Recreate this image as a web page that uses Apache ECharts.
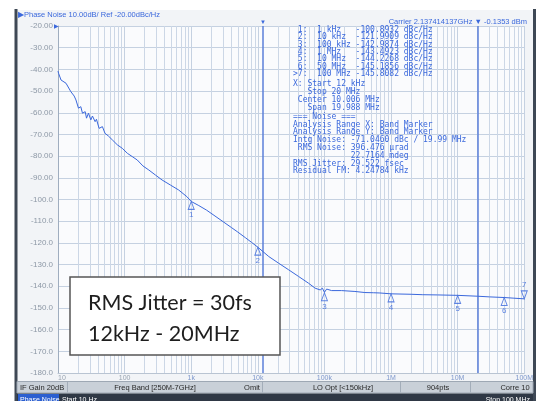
<!DOCTYPE html>
<html><head><meta charset="utf-8">
<script src="https://cdn.jsdelivr.net/npm/echarts@6/dist/echarts.min.js"></script>
<style>html,body{margin:0;padding:0;background:#fff}#c{width:536px;height:401px}</style>
</head><body><div id="c"></div>
<script>
// ---- data ----
const freqHz = [10, 10.2, 11.1, 11.7, 13.2, 15.6, 17.5, 18.6, 20.3, 22.0, 23.3, 25.6, 26.8, 28.7, 31.1, 32.9, 36.1, 37.8, 41.4, 46.4, 50.8, 57, 65.4, 77.8, 92.3, 110, 130, 155, 188, 231, 290, 365, 486, 647, 861,
  1000, 1300, 1700, 2200, 3000, 4000, 5000, 6500, 8000, 10000, 14600, 20600, 29000, 41000, 57700, 72600, 86300, 93300, 100000, 108000, 128000, 181000, 287000, 405000, 550000, 680000, 700000, 720000,
  1e6, 2e6, 3e6, 5e6, 1e7, 2e7, 3e7, 5e7, 7e7, 1e8];
const phaseNoise = [-40.8, -41.8, -44.9, -44.1, -46.4, -50.3, -52.3, -54.1, -57.9, -57.2, -60.2, -59.5, -62.5, -60.2, -63.3, -61.5, -64.1, -63.0, -67.2, -66.4, -69.5, -70.7, -72.5, -74.8, -76.4, -78.7, -80.2, -81.8, -84.5, -86.4, -88.7, -91.0, -93.3, -95.6, -98.7,
  -100.9, -102.8, -104.9, -107.3, -110.2, -112.9, -115.0, -117.6, -119.7, -122.0, -126.3, -129.4, -132.4, -135.5, -138.6, -140.9, -141.7, -140.9, -142.8, -141.3, -142.0, -142.0, -142.4, -142.9, -143.0, -143.1, -144.0, -143.2,
  -143.5, -143.7, -143.9, -144.0, -144.2, -144.6, -144.9, -145.2, -145.5, -145.8];
const markerIds = ['1', '2', '3', '4', '5', '6', '>7'];
const markerFreq = [1e3, 1e4, 1e5, 1e6, 1e7, 5e7, 1e8];
const markerFreqText = ['1 kHz', '10 kHz', '100 kHz', '1 MHz', '10 MHz', '50 MHz', '100 MHz'];
const markerVal = [-100.8932, -121.9909, -142.9874, -143.4923, -144.2268, -145.1856, -145.8082];
const bandStartHz = 12000;
const bandStopHz = 2e7;
const xTickLabels = { 10: '10', 100: '100', 1000: '1k', 10000: '10k', 100000: '100k', 1000000: '1M', 10000000: '10M', 100000000: '100M' };
const bandLines = ['X: Start 12 kHz', '   Stop 20 MHz', ' Center 10.006 MHz', '   Span 19.988 MHz'];
const noiseLines = ['=== Noise ===', 'Analysis Range X: Band Marker', 'Analysis Range Y: Band Marker',
  'Intg Noise: -71.0460 dBc / 19.99 MHz', ' RMS Noise: 396.476 \u00b5rad', '            22.7164 mdeg',
  'RMS Jitter: 29.522 fsec', 'Residual FM: 4.24784 kHz'];
const titleText = '\u25b6Phase Noise 10.00dB/ Ref -20.00dBc/Hz';
const carrierText = 'Carrier 2.137414137GHz \u25bc -0.1353 dBm';
const calloutLines = ['RMS Jitter = 30fs', '12kHz - 20MHz'];
const statusItems = [['IF Gain 20dB', 20, 'left'], ['Freq Band [250M-7GHz]', 155, 'center'], ['Omit', 252, 'center'], ['LO Opt [<150kHz]', 343, 'center'], ['904pts', 438, 'center'], ['Corre 10', 515, 'center']];

// ---- build ----
const BLUE = '#3a68dc';
const minorX = [];
for (let d = 10; d < 1e8; d *= 10) for (let m = 2; m <= 9; m++) minorX.push(d * m);
const markerRows = markerIds.map((id, i) => {
  const head = (id.length === 1 ? ' ' : '') + id + ':';
  return (head + '  ' + markerFreqText[i]).padEnd(13, ' ') + markerVal[i].toFixed(4) + ' dBc/Hz';
});

const chart = echarts.init(document.getElementById('c'), null, { renderer: 'canvas' });
const mono = '"DejaVu Sans Mono", monospace';
const ui = '"Liberation Sans", Arial, sans-serif';

const graphics = [
  { type: 'rect', z: -10, shape: { x: 0, y: 0, width: 536, height: 401 }, style: { fill: '#ffffff' } },
  { type: 'rect', z: -9, shape: { x: 17, y: 10, width: 516, height: 391 }, style: { fill: '#f2f4f7' } },
  { type: 'rect', z: 50, shape: { x: 14.5, y: 9, width: 3, height: 392 }, style: { fill: '#3e4855' } },
  { type: 'rect', z: 50, shape: { x: 533, y: 9, width: 3, height: 392 }, style: { fill: '#3e4855' } },
  { type: 'text', z: 50, style: { x: 18, y: 14.5, text: titleText, font: '7.5px ' + ui, fill: BLUE, verticalAlign: 'middle' } },
  { type: 'text', z: 50, style: { x: 527, y: 21.5, text: carrierText, font: '7.5px ' + ui, fill: BLUE, align: 'right', verticalAlign: 'middle' } },
  { type: 'text', z: 50, style: { x: 58.5, y: 26, text: '\u25b6', font: '6px ' + ui, fill: BLUE, align: 'right', verticalAlign: 'middle' } },
  { type: 'text', z: 40, style: { x: 293, y: 26, text: markerRows.join('\n'), font: '8px ' + mono, lineHeight: 7.4, fill: BLUE, verticalAlign: 'top' } },
  { type: 'text', z: 40, style: { x: 293, y: 80.4, text: bandLines.join('\n'), font: '8px ' + mono, lineHeight: 7.8, fill: BLUE, verticalAlign: 'top' } },
  { type: 'text', z: 40, style: { x: 293, y: 112.8, text: noiseLines.join('\n'), font: '8px ' + mono, lineHeight: 7.8, fill: BLUE, verticalAlign: 'top' } },
  // callout box
  { type: 'rect', z: 60, shape: { x: 70, y: 277, width: 210, height: 78 }, style: { fill: '#ffffff', stroke: '#555', lineWidth: 1.5 } },
  { type: 'text', z: 61, style: { x: 88, y: 303, text: calloutLines[0], font: '21.5px Lato, "Open Sans", sans-serif', fill: '#1e1e1e', verticalAlign: 'middle' } },
  { type: 'text', z: 61, style: { x: 88, y: 334, text: calloutLines[1], font: '21.5px Lato, "Open Sans", sans-serif', fill: '#1e1e1e', verticalAlign: 'middle' } },
  // status bar
  { type: 'rect', z: 50, shape: { x: 17, y: 381.5, width: 516, height: 11.5 }, style: { fill: '#c9d0d8', stroke: '#9ea8b4', lineWidth: 1 } },
  { type: 'rect', z: 50, shape: { x: 17, y: 393.5, width: 516, height: 8 }, style: { fill: '#2f3845' } },
  { type: 'rect', z: 51, shape: { x: 18, y: 394, width: 41, height: 7 }, style: { fill: '#2b5fd0' } },
  { type: 'text', z: 52, style: { x: 20, y: 400, text: 'Phase Noise', font: '7px ' + ui, fill: '#ffffff', verticalAlign: 'middle' } },
  { type: 'text', z: 52, style: { x: 62, y: 400, text: 'Start 10 Hz', font: '7px ' + ui, fill: '#ffffff', verticalAlign: 'middle' } },
  { type: 'text', z: 52, style: { x: 530, y: 400, text: 'Stop 100 MHz', font: '7px ' + ui, fill: '#ffffff', align: 'right', verticalAlign: 'middle' } }
];
[67, 262, 400, 470].forEach(x => graphics.push({ type: 'rect', z: 51, shape: { x: x, y: 382, width: 1, height: 10.5 }, style: { fill: '#a3adb9' } }));
statusItems.forEach(s => graphics.push({ type: 'text', z: 52, style: { x: s[1], y: 387.5, text: s[0], font: '7.5px ' + ui, fill: '#2a2a2a', align: s[2], verticalAlign: 'middle' } }));

chart.setOption({
  animation: false,
  backgroundColor: '#ffffff',
  grid: { left: 58, top: 26, right: 9, bottom: 28, show: true, backgroundColor: '#fafbfd', borderWidth: 0 },
  xAxis: {
    type: 'log', logBase: 10, min: 10, max: 1e8,
    axisLine: { show: true, lineStyle: { color: '#b9c4d2' } },
    axisTick: { show: false },
    splitLine: { show: true, lineStyle: { color: '#c5d1e1', width: 1 } },
    axisLabel: {
      fontSize: 7, fontFamily: 'Liberation Sans', margin: 2, alignMinLabel: 'left',
      formatter: v => xTickLabels[Math.round(v)] || '',
      color: v => (Math.round(v) <= 100 ? '#98a3b1' : '#7f98cc')
    }
  },
  yAxis: {
    type: 'value', min: -180, max: -20, interval: 10,
    axisLine: { show: true, lineStyle: { color: '#9fadbf' } },
    axisTick: { show: false },
    splitLine: { show: true, lineStyle: { color: '#c5d1e1', width: 1 } },
    axisLabel: { fontSize: 8, fontFamily: 'Liberation Sans', color: '#8d98a6', margin: 5, formatter: v => (v > -100 ? v.toFixed(2) : v.toFixed(1)) }
  },
  series: [
    {
      type: 'line', data: [], silent: true, z: 1,
      markLine: { silent: true, symbol: 'none', animation: false, label: { show: false }, lineStyle: { color: '#ccd7e6', width: 1, type: 'solid' }, data: minorX.map(v => ({ xAxis: v })) }
    },
    {
      type: 'line', data: [], silent: true, z: 2,
      markLine: { silent: true, symbol: 'none', animation: false, label: { show: false }, lineStyle: { color: '#5b7fd8', width: 1.5, type: 'solid' }, data: [{ xAxis: bandStartHz }, { xAxis: bandStopHz }] }
    },
    {
      type: 'line', z: 5, showSymbol: false, data: freqHz.map((f, i) => [f, phaseNoise[i]]),
      lineStyle: { color: BLUE, width: 1 }
    },
    {
      type: 'scatter', z: 6,
      data: markerFreq.map((f, i) => {
        const active = i === markerFreq.length - 1;
        return {
          value: [f, markerVal[i]],
          symbolRotate: active ? 180 : 0,
          symbolOffset: active ? [0, -4] : [0, 4],
          label: { position: active ? 'top' : 'bottom', distance: 1 }
        };
      }),
      symbol: 'triangle', symbolSize: [6, 8],
      itemStyle: { color: 'rgba(255,255,255,0.4)', borderColor: BLUE, borderWidth: 1 },
      label: { show: true, fontSize: 8, fontFamily: 'Liberation Sans', color: BLUE, formatter: p => String(p.dataIndex + 1) }
    }
  ],
  graphic: graphics
});

// small marker head above the band start line, placed through the axis scale
const xs = chart.convertToPixel({ xAxisIndex: 0 }, bandStartHz);
chart.setOption({ graphic: graphics.concat([
  { type: 'text', z: 50, style: { x: xs, y: 22, text: '\u25bc', font: '6px ' + ui, fill: BLUE, align: 'center', verticalAlign: 'middle' } }
]) });
</script></body></html>
